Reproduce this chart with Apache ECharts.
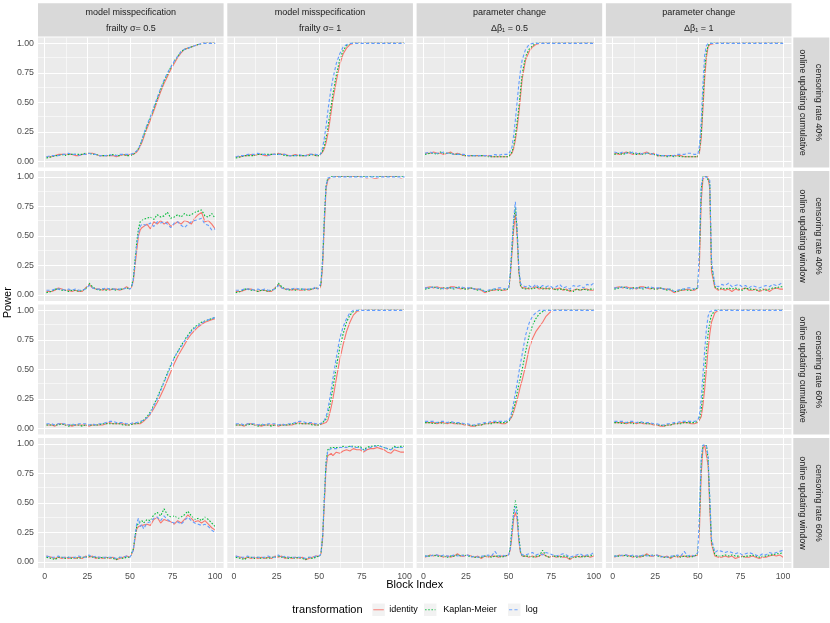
<!DOCTYPE html>
<html>
<head>
<meta charset="utf-8">
<script src="https://cdn.jsdelivr.net/npm/echarts@6.0.0/dist/echarts.min.js"></script>
<style>
  html, body { margin: 0; padding: 0; background: #fff; }
  #chart { width: 830px; height: 623px; }
</style>
</head>
<body>
<div id="chart"></div>
<script>
// block index (denser around the change point at block 50)
const blocks = [1, 2, 4, 6, 8, 10, 12, 14, 16, 18, 20, 22, 24, 26, 28, 30, 32, 34, 36, 38, 40, 42, 44, 46, 48,
  49, 50, 51, 52, 53, 54, 55, 56, 57, 58,
  60, 62, 64, 66, 68, 70, 72, 74, 76, 78, 80, 82, 84, 86, 88, 90, 92, 94, 96, 98, 100];

const xTicks = [0, 25, 50, 75, 100];
const yTicks = [0, 0.25, 0.5, 0.75, 1];

const colStrips = [
  ["model misspecification", "frailty σ= 0.5"],
  ["model misspecification", "frailty σ= 1"],
  ["parameter change", "Δβ₁ = 0.5"],
  ["parameter change", "Δβ₁ = 1"]
];
const rowStrips = [
  ["censoring rate 40%", "online updating cumulative"],
  ["censoring rate 40%", "online updating window"],
  ["censoring rate 60%", "online updating cumulative"],
  ["censoring rate 60%", "online updating window"]
];

const methods = ["identity", "Kaplan-Meier", "log"];

// ---- censoring 40%, cumulative ----
const cum40_fr05_id = [.04,.03,.04,.05,.06,.06,.06,.06,.06,.05, .05,.06,.06,.07,.07,.06,.05,.05,.05,.05, .05,.04,.05,.06,.05,  .05,.06,.06,.06,.07,.08,.1,.13,.16,.2,  .28,.35,.43,.51,.59,.66,.72,.78,.83,.88, .92,.95,.96,.97,.98,.99,1,1,1,1, 1];
const cum40_fr05_km = [.03,.02,.04,.05,.05,.06,.05,.06,.06,.06, .06,.06,.07,.07,.06,.06,.05,.05,.05,.05, .06,.05,.05,.06,.05,  .05,.05,.06,.06,.07,.09,.11,.14,.18,.22,  .3,.37,.45,.53,.61,.68,.74,.8,.85,.89, .93,.95,.96,.97,.98,.99,1,1,1,1, 1];
const cum40_fr05_log = [.04,.04,.05,.05,.05,.06,.06,.07,.06,.06, .05,.06,.06,.07,.06,.06,.05,.05,.05,.06, .05,.05,.06,.06,.06,  .06,.06,.06,.07,.08,.09,.11,.14,.18,.23,  .31,.38,.46,.54,.62,.69,.75,.8,.85,.89, .93,.95,.96,.97,.98,.99,1,1,1,1, 1];

const cum40_fr1_id = [.04,.03,.04,.05,.05,.06,.05,.06,.06,.05, .05,.06,.06,.07,.06,.06,.05,.05,.06,.05, .05,.05,.06,.06,.05,  .05,.05,.06,.08,.11,.16,.23,.32,.42,.52,  .68,.82,.91,.96,.99,1,1,1,1,1, 1,1,1,1,1,1,1,1,1,1, 1];
const cum40_fr1_km = [.03,.02,.04,.05,.05,.05,.05,.06,.06,.06, .06,.06,.06,.06,.06,.05,.05,.05,.05,.05, .05,.05,.05,.06,.05,  .05,.05,.06,.09,.13,.2,.28,.38,.47,.57,  .73,.86,.94,.98,1,1,1,1,1,1, 1,1,1,1,1,1,1,1,1,1, 1];
const cum40_fr1_log = [.04,.04,.05,.05,.06,.06,.06,.07,.06,.06, .05,.06,.06,.06,.06,.06,.05,.05,.05,.06, .05,.05,.06,.06,.06,  .06,.05,.07,.12,.2,.3,.42,.53,.62,.7,  .83,.91,.97,.99,1,1,1,1,1,1, 1,1,1,1,1,1,1,1,1,1, 1];

const cum40_db05_id = [.07,.08,.07,.08,.07,.07,.06,.07,.08,.06, .07,.06,.05,.05,.05,.05,.05,.05,.05,.05, .04,.04,.04,.04,.04,  .04,.04,.05,.07,.11,.18,.28,.4,.55,.7,  .86,.93,.97,.99,1,1,1,1,1,1, 1,1,1,1,1,1,1,1,1,1, 1];
const cum40_db05_km = [.06,.07,.07,.07,.06,.08,.07,.07,.07,.06, .06,.06,.05,.05,.05,.05,.05,.05,.05,.04, .04,.04,.04,.04,.04,  .04,.04,.05,.08,.13,.22,.33,.45,.6,.74,  .89,.95,.98,1,1,1,1,1,1,1, 1,1,1,1,1,1,1,1,1,1, 1];
const cum40_db05_log = [.07,.08,.08,.07,.07,.07,.08,.07,.07,.06, .06,.06,.06,.05,.05,.05,.05,.05,.05,.05, .05,.06,.05,.06,.06,  .06,.06,.07,.12,.22,.35,.5,.65,.77,.86,  .95,.99,1,1,1,1,1,1,1,1, 1,1,1,1,1,1,1,1,1,1, 1];

const cum40_db1_id = [.07,.07,.06,.07,.08,.07,.06,.07,.06,.07, .08,.06,.07,.05,.05,.05,.05,.05,.05,.05, .05,.04,.04,.04,.04,  .04,.04,.08,.2,.45,.7,.88,.97,.99,1,  1,1,1,1,1,1,1,1,1,1, 1,1,1,1,1,1,1,1,1,1, 1];
const cum40_db1_km = [.06,.07,.07,.06,.07,.08,.07,.06,.07,.06, .07,.07,.06,.05,.05,.05,.04,.05,.04,.05, .04,.04,.04,.04,.04,  .04,.04,.1,.25,.52,.78,.92,.98,1,1,  1,1,1,1,1,1,1,1,1,1, 1,1,1,1,1,1,1,1,1,1, 1];
const cum40_db1_log = [.08,.07,.07,.08,.07,.07,.08,.07,.06,.07, .07,.07,.06,.06,.05,.05,.05,.05,.05,.06, .06,.06,.07,.07,.06,  .06,.06,.14,.35,.66,.9,.98,1,1,1,  1,1,1,1,1,1,1,1,1,1, 1,1,1,1,1,1,1,1,1,1, 1];

// ---- censoring 40%, window ----
const win40_fr05_id = [.03,.02,.03,.04,.06,.05,.04,.04,.03,.04, .03,.03,.06,.09,.06,.05,.05,.04,.05,.04, .05,.05,.04,.05,.07,  .06,.05,.07,.12,.25,.38,.5,.55,.57,.57,  .6,.56,.62,.6,.63,.6,.62,.58,.6,.62, .6,.63,.62,.6,.65,.68,.7,.62,.63,.6, .56];
const win40_fr05_km = [.02,.02,.03,.05,.05,.04,.04,.03,.04,.04, .03,.04,.05,.1,.07,.05,.04,.05,.04,.05, .05,.04,.05,.05,.06,  .06,.05,.08,.14,.3,.45,.56,.62,.63,.64,  .65,.66,.64,.68,.66,.67,.7,.65,.66,.68, .66,.69,.67,.68,.7,.71,.72,.67,.66,.69, .65];
const win40_fr05_log = [.04,.03,.04,.05,.05,.05,.04,.05,.04,.05, .04,.04,.05,.08,.06,.05,.05,.05,.06,.05, .05,.05,.05,.05,.06,  .05,.05,.07,.13,.28,.42,.52,.58,.6,.6,  .59,.61,.58,.62,.61,.62,.6,.57,.61,.62, .59,.57,.6,.62,.63,.64,.65,.6,.59,.55, .56];

const win40_fr1_id = [.03,.02,.03,.04,.05,.05,.04,.03,.04,.04, .03,.03,.06,.09,.06,.05,.05,.04,.05,.04, .04,.05,.04,.05,.06,  .05,.05,.08,.25,.6,.9,.97,.99,1,1,  1,1,1,1,1,1,1,1,1,.99, 1,.99,.99,1,1,1,1,1,1,.99, 1];
const win40_fr1_km = [.02,.02,.03,.05,.05,.04,.04,.03,.04,.04, .03,.04,.05,.1,.07,.05,.04,.05,.04,.05, .05,.04,.05,.05,.06,  .05,.05,.1,.3,.66,.93,.99,1,1,1,  1,1,1,1,1,1,1,1,1,1, 1,1,1,1,1,1,1,1,1,1, 1];
const win40_fr1_log = [.04,.03,.04,.05,.05,.05,.04,.05,.04,.05, .04,.04,.05,.08,.06,.05,.05,.05,.06,.05, .05,.05,.05,.05,.07,  .05,.05,.1,.3,.65,.92,.99,1,1,1,  1,1,1,1,1,1,1,1,1,1, 1,1,1,1,1,1,1,1,1,1, 1];

const win40_db05_id = [.06,.06,.07,.06,.07,.06,.06,.05,.07,.07, .06,.05,.06,.05,.06,.05,.05,.04,.02,.03, .04,.04,.05,.04,.04,  .04,.05,.15,.35,.55,.69,.5,.2,.08,.06,  .06,.05,.06,.07,.05,.06,.05,.06,.05,.05, .06,.04,.05,.03,.04,.05,.04,.05,.05,.04, .04];
const win40_db05_km = [.05,.06,.06,.07,.06,.05,.06,.06,.06,.05, .07,.06,.05,.05,.06,.05,.04,.05,.03,.03, .04,.05,.04,.04,.05,  .05,.05,.17,.4,.62,.75,.55,.22,.08,.06,  .05,.06,.05,.06,.07,.05,.06,.05,.06,.04, .05,.05,.04,.04,.03,.05,.04,.05,.04,.05, .05];
const win40_db05_log = [.06,.07,.06,.07,.06,.06,.05,.06,.06,.06, .06,.07,.06,.06,.06,.05,.05,.05,.03,.04, .05,.05,.06,.06,.05,  .05,.06,.18,.42,.65,.79,.58,.25,.1,.08,  .07,.08,.06,.09,.06,.08,.07,.08,.06,.07, .09,.06,.07,.05,.08,.07,.08,.06,.09,.08, .1];

const win40_db1_id = [.06,.06,.07,.06,.07,.06,.06,.05,.07,.07, .06,.05,.06,.05,.06,.05,.05,.04,.02,.03, .04,.04,.05,.04,.04,  .05,.06,.3,.8,.98,1,1,1,.9,.2,  .06,.04,.05,.04,.05,.03,.05,.04,.05,.06, .04,.04,.05,.03,.04,.05,.03,.05,.06,.05, .05];
const win40_db1_km = [.05,.06,.06,.07,.06,.05,.06,.06,.06,.05, .07,.06,.05,.05,.06,.05,.04,.05,.03,.03, .04,.05,.04,.04,.05,  .05,.06,.4,.9,1,1,1,1,.95,.25,  .07,.05,.06,.05,.06,.05,.06,.05,.04,.06, .05,.05,.04,.04,.05,.04,.05,.06,.06,.07, .07];
const win40_db1_log = [.06,.07,.06,.07,.06,.06,.05,.06,.06,.06, .06,.07,.06,.06,.06,.05,.05,.05,.03,.04, .05,.05,.06,.06,.05,  .05,.06,.45,.93,1,1,1,1,.97,.3,  .08,.07,.09,.08,.1,.07,.08,.09,.07,.08, .06,.08,.07,.06,.07,.08,.07,.09,.08,.09, .11];

// ---- censoring 60%, cumulative ----
const cum60_fr05_id = [.03,.03,.03,.02,.04,.04,.03,.03,.02,.03, .03,.03,.03,.02,.03,.03,.03,.03,.04,.05, .04,.04,.04,.04,.03,  .03,.03,.04,.04,.03,.04,.04,.04,.05,.06,  .09,.12,.17,.22,.28,.34,.41,.48,.55,.61, .66,.71,.76,.8,.83,.86,.88,.9,.91,.92, .93];
const cum60_fr05_km = [.03,.02,.03,.03,.03,.04,.03,.02,.03,.03, .03,.02,.03,.03,.03,.03,.03,.04,.04,.04, .04,.04,.04,.03,.03,  .03,.03,.04,.04,.04,.04,.04,.05,.06,.07,  .1,.14,.2,.26,.33,.4,.47,.54,.6,.65, .7,.75,.79,.83,.86,.88,.9,.91,.92,.93, .94];
const cum60_fr05_log = [.04,.04,.04,.03,.04,.04,.04,.03,.04,.03, .04,.04,.04,.03,.04,.03,.04,.04,.05,.06, .06,.05,.05,.05,.04,  .04,.04,.04,.05,.05,.05,.05,.06,.06,.07,  .09,.13,.19,.25,.32,.39,.46,.53,.6,.65, .69,.74,.78,.82,.85,.87,.89,.91,.92,.93, .94];

const cum60_fr1_id = [.03,.03,.03,.02,.04,.04,.03,.03,.02,.03, .03,.03,.03,.02,.03,.03,.03,.03,.04,.05, .04,.04,.04,.04,.03,  .03,.03,.04,.04,.04,.05,.07,.12,.18,.25,  .42,.58,.71,.82,.9,.96,.99,1,1,1, 1,1,1,1,1,1,1,1,1,1, 1];
const cum60_fr1_km = [.03,.02,.03,.03,.03,.04,.03,.02,.03,.03, .03,.02,.03,.03,.03,.03,.03,.04,.04,.04, .04,.04,.04,.03,.03,  .03,.03,.04,.05,.06,.08,.12,.18,.26,.34,  .52,.68,.8,.9,.96,.99,1,1,1,1, 1,1,1,1,1,1,1,1,1,1, 1];
const cum60_fr1_log = [.04,.04,.04,.03,.04,.04,.04,.03,.04,.03, .04,.04,.04,.03,.04,.03,.04,.04,.05,.06, .06,.05,.05,.05,.04,  .04,.04,.05,.05,.07,.1,.16,.24,.33,.42,  .6,.76,.86,.93,.98,1,1,1,1,1, 1,1,1,1,1,1,1,1,1,1, 1];

const cum60_db05_id = [.05,.04,.05,.05,.04,.05,.05,.04,.05,.04, .04,.04,.03,.03,.02,.02,.03,.03,.04,.04, .05,.05,.05,.04,.04,  .05,.06,.07,.1,.14,.19,.24,.3,.36,.41,  .53,.67,.76,.82,.86,.9,.95,.98,1,1, 1,1,1,1,1,1,1,1,1,1, 1];
const cum60_db05_km = [.05,.05,.05,.04,.05,.05,.04,.05,.05,.05, .04,.04,.04,.03,.03,.02,.03,.03,.04,.04, .04,.05,.05,.05,.05,  .05,.06,.08,.12,.17,.23,.3,.37,.43,.5,  .65,.78,.87,.93,.97,.99,1,1,1,1, 1,1,1,1,1,1,1,1,1,1, 1];
const cum60_db05_log = [.06,.06,.06,.06,.05,.06,.06,.05,.06,.05, .05,.05,.04,.04,.03,.03,.04,.04,.05,.05, .06,.06,.06,.06,.06,  .06,.07,.09,.15,.22,.3,.38,.47,.55,.63,  .79,.89,.95,.98,1,1,1,1,1,1, 1,1,1,1,1,1,1,1,1,1, 1];

const cum60_db1_id = [.05,.04,.05,.05,.04,.05,.05,.04,.05,.04, .04,.04,.03,.03,.02,.02,.03,.03,.04,.04, .05,.05,.05,.04,.04,  .05,.05,.06,.1,.2,.33,.5,.67,.8,.9,  .98,1,1,1,1,1,1,1,1,1, 1,1,1,1,1,1,1,1,1,1, 1];
const cum60_db1_km = [.05,.05,.05,.04,.05,.05,.04,.05,.05,.05, .04,.04,.04,.03,.03,.02,.03,.03,.04,.04, .04,.05,.05,.05,.05,  .05,.06,.08,.16,.3,.47,.65,.8,.9,.96,  1,1,1,1,1,1,1,1,1,1, 1,1,1,1,1,1,1,1,1,1, 1];
const cum60_db1_log = [.06,.06,.06,.06,.05,.06,.06,.05,.06,.05, .05,.05,.04,.04,.03,.03,.04,.04,.05,.05, .06,.06,.06,.06,.06,  .06,.07,.12,.26,.46,.66,.84,.95,.99,1,  1,1,1,1,1,1,1,1,1,1, 1,1,1,1,1,1,1,1,1,1, 1];

// ---- censoring 60%, window ----
const win60_fr05_id = [.05,.04,.04,.03,.04,.03,.04,.03,.04,.03, .04,.03,.05,.04,.05,.03,.04,.03,.04,.03, .04,.02,.03,.04,.05,  .05,.04,.05,.1,.2,.28,.3,.29,.31,.3,  .32,.31,.36,.38,.33,.36,.35,.34,.32,.35, .33,.36,.4,.37,.34,.35,.33,.35,.32,.29, .27];
const win60_fr05_km = [.04,.04,.03,.02,.04,.04,.03,.04,.03,.04, .03,.04,.04,.05,.04,.04,.03,.04,.03,.04, .03,.02,.04,.03,.04,  .04,.04,.05,.11,.22,.3,.33,.32,.35,.33,  .36,.35,.4,.42,.39,.45,.4,.38,.39,.37, .38,.4,.43,.39,.36,.37,.35,.38,.36,.33, .3];
const win60_fr05_log = [.05,.05,.04,.04,.05,.04,.04,.04,.04,.04, .05,.04,.04,.06,.04,.05,.04,.04,.04,.04, .04,.03,.04,.04,.05,  .05,.04,.05,.1,.22,.33,.37,.3,.32,.28,  .33,.34,.37,.38,.35,.39,.36,.34,.33,.34, .32,.35,.38,.35,.33,.32,.31,.32,.3,.27, .25];

const win60_fr1_id = [.05,.04,.04,.03,.04,.03,.04,.03,.04,.03, .04,.03,.05,.04,.05,.03,.04,.03,.04,.03, .04,.02,.03,.04,.05,  .05,.05,.07,.2,.5,.8,.9,.91,.92,.9,  .93,.92,.94,.95,.94,.96,.95,.95,.93,.95, .96,.96,.97,.96,.95,.93,.92,.95,.94,.93, .93];
const win60_fr1_km = [.04,.04,.03,.02,.04,.04,.03,.04,.03,.04, .03,.04,.04,.05,.04,.04,.03,.04,.03,.04, .03,.02,.04,.03,.04,  .04,.05,.07,.22,.55,.85,.95,.96,.97,.96,  .97,.97,.98,.97,.98,.98,.97,.98,.95,.97, .98,.98,.99,.98,.97,.96,.95,.98,.97,.98, .98];
const win60_fr1_log = [.05,.05,.04,.04,.05,.04,.04,.04,.04,.04, .05,.04,.04,.06,.04,.05,.04,.04,.04,.04, .04,.03,.04,.04,.05,  .05,.05,.07,.22,.54,.84,.94,.95,.96,.96,  .96,.97,.97,.97,.98,.97,.97,.97,.94,.96, .97,.98,.98,.98,.97,.96,.95,.97,.97,.97, .97];

const win60_db05_id = [.04,.05,.06,.05,.06,.05,.04,.05,.04,.05, .07,.05,.05,.06,.05,.04,.05,.03,.05,.04, .05,.05,.04,.05,.05,  .05,.06,.1,.22,.36,.42,.36,.18,.08,.05,  .05,.04,.05,.04,.05,.07,.05,.04,.05,.04, .05,.04,.04,.02,.04,.05,.04,.05,.05,.04, .05];
const win60_db05_km = [.05,.05,.05,.06,.05,.05,.05,.04,.05,.05, .06,.05,.06,.05,.05,.04,.04,.04,.05,.05, .04,.05,.05,.04,.05,  .05,.06,.12,.28,.42,.52,.44,.22,.09,.05,  .05,.05,.04,.05,.05,.1,.05,.04,.05,.05, .04,.05,.05,.03,.04,.04,.05,.04,.05,.05, .06];
const win60_db05_log = [.05,.06,.05,.06,.06,.05,.06,.05,.05,.06, .05,.06,.05,.06,.04,.05,.04,.05,.05,.06, .05,.09,.05,.06,.05,  .05,.06,.11,.26,.4,.47,.4,.2,.09,.06,  .06,.07,.08,.06,.07,.06,.08,.07,.06,.05, .06,.07,.06,.04,.05,.06,.07,.05,.06,.06, .08];

const win60_db1_id = [.04,.05,.06,.05,.06,.05,.04,.05,.04,.05, .07,.05,.05,.06,.05,.04,.05,.03,.05,.04, .05,.05,.04,.05,.05,  .04,.06,.3,.75,.96,.99,.98,.82,.45,.15,  .05,.04,.04,.05,.04,.05,.03,.04,.05,.04, .04,.05,.04,.03,.04,.04,.05,.06,.05,.06, .04];
const win60_db1_km = [.05,.05,.05,.06,.05,.05,.05,.04,.05,.05, .06,.05,.06,.05,.05,.04,.04,.04,.05,.05, .04,.05,.05,.04,.05,  .05,.07,.4,.85,.99,1,.99,.88,.52,.18,  .06,.05,.05,.06,.05,.06,.05,.05,.04,.05, .05,.06,.05,.04,.05,.05,.06,.06,.07,.07, .08];
const win60_db1_log = [.05,.06,.05,.06,.06,.05,.06,.05,.05,.06, .05,.06,.05,.06,.04,.05,.04,.05,.05,.06, .05,.09,.05,.06,.05,  .05,.08,.45,.88,.99,1,.99,.9,.55,.2,  .08,.1,.09,.08,.09,.08,.07,.08,.06,.07, .08,.07,.06,.05,.07,.06,.08,.07,.08,.09, .1];

const panels = [
  [[cum40_fr05_id, cum40_fr05_km, cum40_fr05_log], [cum40_fr1_id, cum40_fr1_km, cum40_fr1_log],
   [cum40_db05_id, cum40_db05_km, cum40_db05_log], [cum40_db1_id, cum40_db1_km, cum40_db1_log]],
  [[win40_fr05_id, win40_fr05_km, win40_fr05_log], [win40_fr1_id, win40_fr1_km, win40_fr1_log],
   [win40_db05_id, win40_db05_km, win40_db05_log], [win40_db1_id, win40_db1_km, win40_db1_log]],
  [[cum60_fr05_id, cum60_fr05_km, cum60_fr05_log], [cum60_fr1_id, cum60_fr1_km, cum60_fr1_log],
   [cum60_db05_id, cum60_db05_km, cum60_db05_log], [cum60_db1_id, cum60_db1_km, cum60_db1_log]],
  [[win60_fr05_id, win60_fr05_km, win60_fr05_log], [win60_fr1_id, win60_fr1_km, win60_fr1_log],
   [win60_db05_id, win60_db05_km, win60_db05_log], [win60_db1_id, win60_db1_km, win60_db1_log]]
];

const FONT = "'Liberation Sans', Arial, Helvetica, sans-serif";
const colors = ["#F8766D", "#00BA38", "#619CFF"];
const dashes = ["solid", [1.6, 1.6], [3.2, 2.2]];

const colLeft = [38, 227.3, 416.6, 605.9];
const rowTop = [37.5, 171, 304.5, 438];
const panelW = 185.6;
const panelH = 129.9;

const chart = echarts.init(document.getElementById("chart"));

const grids = [], xAxes = [], yAxes = [], series = [], graphics = [];

const major = { color: "#FFFFFF", width: 1.1, type: "solid" };
const minor = { color: "#FFFFFF", width: 0.55, type: "solid" };
const gridLines = []
  .concat([12.5, 37.5, 62.5, 87.5].map(v => ({ xAxis: v, lineStyle: minor })))
  .concat([0.125, 0.375, 0.625, 0.875].map(v => ({ yAxis: v, lineStyle: minor })))
  .concat(xTicks.map(v => ({ xAxis: v, lineStyle: major })))
  .concat(yTicks.map(v => ({ yAxis: v, lineStyle: major })));

for (let r = 0; r < 4; r++) {
  for (let c = 0; c < 4; c++) {
    const idx = r * 4 + c;
    grids.push({
      left: colLeft[c], top: rowTop[r], width: panelW, height: panelH,
      show: true, backgroundColor: "#EBEBEB", borderWidth: 0
    });
    xAxes.push({
      gridIndex: idx, type: "value", min: -3.95, max: 104.95,
      show: r === 3,
      axisLine: { show: false },
      splitLine: { show: false },
      axisTick: { show: true, customValues: xTicks, length: 3, lineStyle: { color: "#333333", width: 1 } },
      axisLabel: { customValues: xTicks, color: "#4D4D4D", fontSize: 8.8, fontFamily: FONT, margin: 4 }
    });
    yAxes.push({
      gridIndex: idx, type: "value", min: -0.05, max: 1.05,
      show: c === 0,
      axisLine: { show: false },
      splitLine: { show: false },
      axisTick: { show: true, customValues: yTicks, length: 3, lineStyle: { color: "#333333", width: 1 } },
      axisLabel: { customValues: yTicks, color: "#4D4D4D", fontSize: 8.8, fontFamily: FONT, margin: 4,
        formatter: v => v.toFixed(2) }
    });
    // panel grid lines
    series.push({
      type: "line", xAxisIndex: idx, yAxisIndex: idx, data: [], silent: true, z: 1,
      markLine: { silent: true, symbol: ["none", "none"], label: { show: false }, animation: false, data: gridLines }
    });
    panels[r][c].forEach((vals, s) => {
      series.push({
        name: methods[s], type: "line", xAxisIndex: idx, yAxisIndex: idx, z: 3 + s,
        showSymbol: false, symbol: "none", silent: true,
        lineStyle: { color: colors[s], width: 1.1, type: dashes[s], opacity: 1 },
        data: blocks.map((b, i) => [b, vals[i]])
      });
    });
  }
}

// column strips
colStrips.forEach((lab, c) => {
  graphics.push({ type: "rect", shape: { x: colLeft[c], y: 3.3, width: panelW, height: 33.2 },
    style: { fill: "#D9D9D9" }, silent: true });
  lab.forEach((t, k) => {
    graphics.push({ type: "text", x: colLeft[c] + panelW / 2, y: k === 0 ? 12.3 : 28.3,
      style: { text: t, fill: "#1A1A1A", font: "9px " + FONT, textAlign: "center", textVerticalAlign: "middle" }, silent: true });
  });
});

// row strips (text rotated clockwise)
rowStrips.forEach((lab, r) => {
  graphics.push({ type: "rect", shape: { x: 793.3, y: rowTop[r], width: 36, height: panelH },
    style: { fill: "#D9D9D9" }, silent: true });
  lab.forEach((t, k) => {
    graphics.push({ type: "text", x: k === 0 ? 818.5 : 802.3, y: rowTop[r] + panelH / 2, rotation: -Math.PI / 2,
      style: { text: t, fill: "#1A1A1A", font: "9px " + FONT, textAlign: "center", textVerticalAlign: "middle" }, silent: true });
  });
});

// axis titles
graphics.push({ type: "text", x: 8, y: 302.7, rotation: Math.PI / 2,
  style: { text: "Power", fill: "#000", font: "11px " + FONT, textAlign: "center", textVerticalAlign: "middle" }, silent: true });
graphics.push({ type: "text", x: 414.7, y: 585,
  style: { text: "Block Index", fill: "#000", font: "11px " + FONT, textAlign: "center", textVerticalAlign: "middle" }, silent: true });

// legend
graphics.push({ type: "text", x: 292.3, y: 609.5,
  style: { text: "transformation", fill: "#000", font: "11px " + FONT, textAlign: "left", textVerticalAlign: "middle" }, silent: true });
const keyX = [372.3, 424, 508];
const labX = [389.3, 443.3, 525.7];
methods.forEach((m, s) => {
  graphics.push({ type: "rect", shape: { x: keyX[s], y: 603.5, width: 12.5, height: 12.5 },
    style: { fill: "#F2F2F2" }, silent: true });
  graphics.push({ type: "line", shape: { x1: keyX[s] + 1, y1: 609.75, x2: keyX[s] + 11.5, y2: 609.75 },
    style: { stroke: colors[s], lineWidth: 1.1, lineDash: s === 0 ? null : dashes[s], opacity: 0.85 }, silent: true });
  graphics.push({ type: "text", x: labX[s], y: 609.5,
    style: { text: m, fill: "#000", font: "9px " + FONT, textAlign: "left", textVerticalAlign: "middle" }, silent: true });
});

chart.setOption({
  animation: false,
  backgroundColor: "#FFFFFF",
  textStyle: { fontFamily: FONT },
  grid: grids,
  xAxis: xAxes,
  yAxis: yAxes,
  series: series,
  graphic: graphics
});
</script>
</body>
</html>
